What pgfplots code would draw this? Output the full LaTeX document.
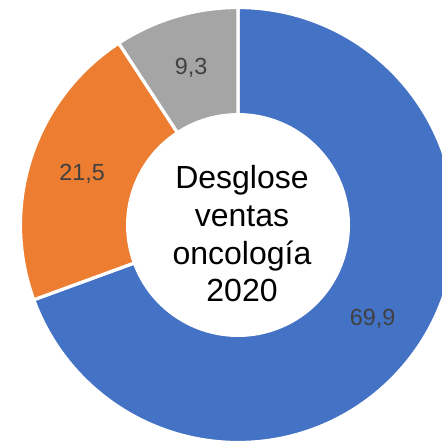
\documentclass[border=0pt]{standalone}
\usepackage{pgfplots}
\usepackage{pgfplotstable}
\pgfplotsset{compat=1.18}
\usepackage{fontspec}
\setmainfont{Liberation Sans}
\definecolor{cBlue}{HTML}{4472C4}
\definecolor{cOrange}{HTML}{ED7D31}
\definecolor{cGray}{HTML}{A5A5A5}
\definecolor{cLabel}{HTML}{404040}

\pgfplotstableread{
value
69.9
21.5
9.3
}\donutdata

\begin{document}
\begin{tikzpicture}
\pgfplotstablegetelem{0}{value}\of\donutdata \let\vA\pgfplotsretval
\pgfplotstablegetelem{1}{value}\of\donutdata \let\vB\pgfplotsretval
\pgfplotstablegetelem{2}{value}\of\donutdata \let\vC\pgfplotsretval
\pgfmathsetmacro\total{\vA+\vB+\vC}
\pgfmathsetmacro\aA{90}
\pgfmathsetmacro\aB{\aA-3.6*(\vA/\total)*100}
\pgfmathsetmacro\aC{\aB-3.6*(\vB/\total)*100}
\pgfmathsetmacro\aD{\aC-3.6*(\vC/\total)*100}
\pgfmathsetmacro\mA{(\aA+\aB)/2}
\pgfmathsetmacro\mB{(\aB+\aC)/2}
\pgfmathsetmacro\mC{(\aC+\aD)/2}
\def\Ro{1.007}
\def\Ri{0.511}
\def\Rl{0.76}
\pgfkeys{/pgf/number format/.cd,use comma,fixed,precision=1,assume math mode=true}
\begin{axis}[
  scale only axis,
  width=331.5pt, height=330pt,
  xmin=-1.1019, xmax=0.9444,
  ymin=-0.9954, ymax=1.0417,
  hide axis,
  clip=true,
]
\addplot[draw=none] coordinates {(0,0)};
\filldraw[fill=cBlue, draw=white, line width=2.4pt, line join=miter]
  (axis cs:{\Ro*cos(\aA)},{\Ro*sin(\aA)}) arc[start angle=\aA, end angle=\aB, radius=\Ro]
  -- (axis cs:{\Ri*cos(\aB)},{\Ri*sin(\aB)}) arc[start angle=\aB, end angle=\aA, radius=\Ri] -- cycle;
\filldraw[fill=cOrange, draw=white, line width=2.4pt, line join=miter]
  (axis cs:{\Ro*cos(\aB)},{\Ro*sin(\aB)}) arc[start angle=\aB, end angle=\aC, radius=\Ro]
  -- (axis cs:{\Ri*cos(\aC)},{\Ri*sin(\aC)}) arc[start angle=\aC, end angle=\aB, radius=\Ri] -- cycle;
\filldraw[fill=cGray, draw=white, line width=2.4pt, line join=miter]
  (axis cs:{\Ro*cos(\aC)},{\Ro*sin(\aC)}) arc[start angle=\aC, end angle=\aD, radius=\Ro]
  -- (axis cs:{\Ri*cos(\aD)},{\Ri*sin(\aD)}) arc[start angle=\aD, end angle=\aC, radius=\Ri] -- cycle;
\node[text=cLabel, font=\fontsize{17.5}{20}\selectfont, inner sep=0pt] at (axis cs:{\Rl*cos(\mA)},{\Rl*sin(\mA)}) {\pgfmathprintnumber{\vA}};
\node[text=cLabel, font=\fontsize{17.5}{20}\selectfont, inner sep=0pt] at (axis cs:{\Rl*cos(\mB)},{\Rl*sin(\mB)}) {\pgfmathprintnumber{\vB}};
\node[text=cLabel, font=\fontsize{17.5}{20}\selectfont, inner sep=0pt] at (axis cs:{\Rl*cos(\mC)},{\Rl*sin(\mC)}) {\pgfmathprintnumber{\vC}};
\node[anchor=base, font=\fontsize{24}{28}\selectfont, inner sep=0pt] at (axis cs:0.0185,0.171) {Desglose};
\node[anchor=base, font=\fontsize{24}{28}\selectfont, inner sep=0pt] at (axis cs:0.0185,-0.005) {ventas};
\node[anchor=base, font=\fontsize{24}{28}\selectfont, inner sep=0pt] at (axis cs:0.0185,-0.185) {oncología};
\node[anchor=base, font=\fontsize{24}{28}\selectfont, inner sep=0pt] at (axis cs:0.0185,-0.356) {2020};
\coordinate (sw) at (rel axis cs:0,0);
\coordinate (ne) at (rel axis cs:1,1);
\end{axis}
\pgfresetboundingbox
\path[use as bounding box] (sw) rectangle (ne);
\end{tikzpicture}
\end{document}
